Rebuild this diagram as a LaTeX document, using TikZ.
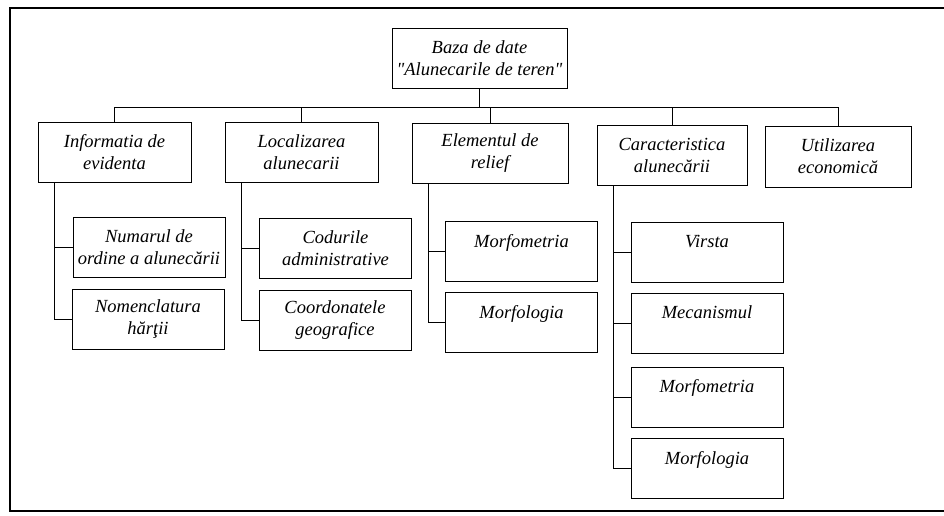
\documentclass[tikz,border=0pt]{standalone}
\usepackage{fontspec}
\setmainfont{Liberation Serif}[Ligatures=TeXOff]
\newcommand{\boxfont}{\fontsize{18.5}{22}\selectfont\itshape}
\begin{document}
\begin{tikzpicture}[x=1pt,y=-1pt,line width=1pt]
    \tikzstyle{every node}+=[inner sep=1pt]
    \tikzstyle{box}=[draw=black, minimum height=60pt, align=center, font=\boxfont]
    \tikzstyle{leaf}=[box, minimum width=152pt]
    \useasboundingbox (0,0) rectangle (944,515);
    % frame of the figure (right side lies off the page)
    \draw [black, line width=1.2pt] (10,8) rectangle (952,511);
    % root
    \node [box, minimum width=175pt] (root) at (479.5,58) {Baza de date\\"Alunecarile de teren"};
    % first level
    \node [box, minimum width=153pt] (info) at (114.5,152.5) {Informatia de\\evidenta};
    \node [box, minimum width=153pt] (loc) at (301.5,152.5) {Localizarea\\alunecarii};
    \node [box, minimum width=156pt] (relief) at (490,153) {Elementul de\\relief};
    \node [box, minimum width=150pt] (car) at (672,155.5) {Caracteristica\\alunecării};
    \node [box, minimum width=146pt, minimum height=61pt] (util) at (838,156.5) {Utilizarea\\economică};
    % second level
    \node [leaf] (info1) at (149,247.5) {Numarul de\\ordine a alunecării};
    \node [leaf] (info2) at (148,319.5) {Nomenclatura\\hărţii};
    \node [leaf] (loc1) at (335.5,248.5) {Codurile\\administrative};
    \node [leaf] (loc2) at (335,320.5) {Coordonatele\\geografice};
    \node [leaf] (rel1) at (521.5,251.5) {Morfometria\\~};
    \node [leaf] (rel2) at (521.5,322.5) {Morfologia\\~};
    \node [leaf] (car1) at (707,252.5) {Virsta\\~};
    \node [leaf] (car2) at (707,323.5) {Mecanismul\\~};
    \node [leaf] (car3) at (707,397) {Morfometria\\~};
    \node [leaf] (car4) at (707,468.5) {Morfologia\\~};
    % bus under the root
    \coordinate (bus) at (479.5,107);
    \draw [black] (root.south) -- (bus);
    \draw [black] (info.north) -- (info.north |- bus) -- (util.north |- bus) -- (util.north);
    \foreach \p in {loc,relief,car}
        \draw [black] (\p.north) -- (\p.north |- bus);
    % trunks down to the leaves
    \foreach \p/\last in {info/info2, loc/loc2, relief/rel2, car/car4} {
        \coordinate (\p-t) at ([xshift=17pt]\p.south west);
        \draw [black] (\p-t) |- (\last.west);
    }
    \foreach \c/\p in {info1/info, loc1/loc, rel1/relief, car1/car, car2/car, car3/car}
        \draw [black] (\p-t |- \c.west) -- (\c.west);
\end{tikzpicture}
\end{document}
